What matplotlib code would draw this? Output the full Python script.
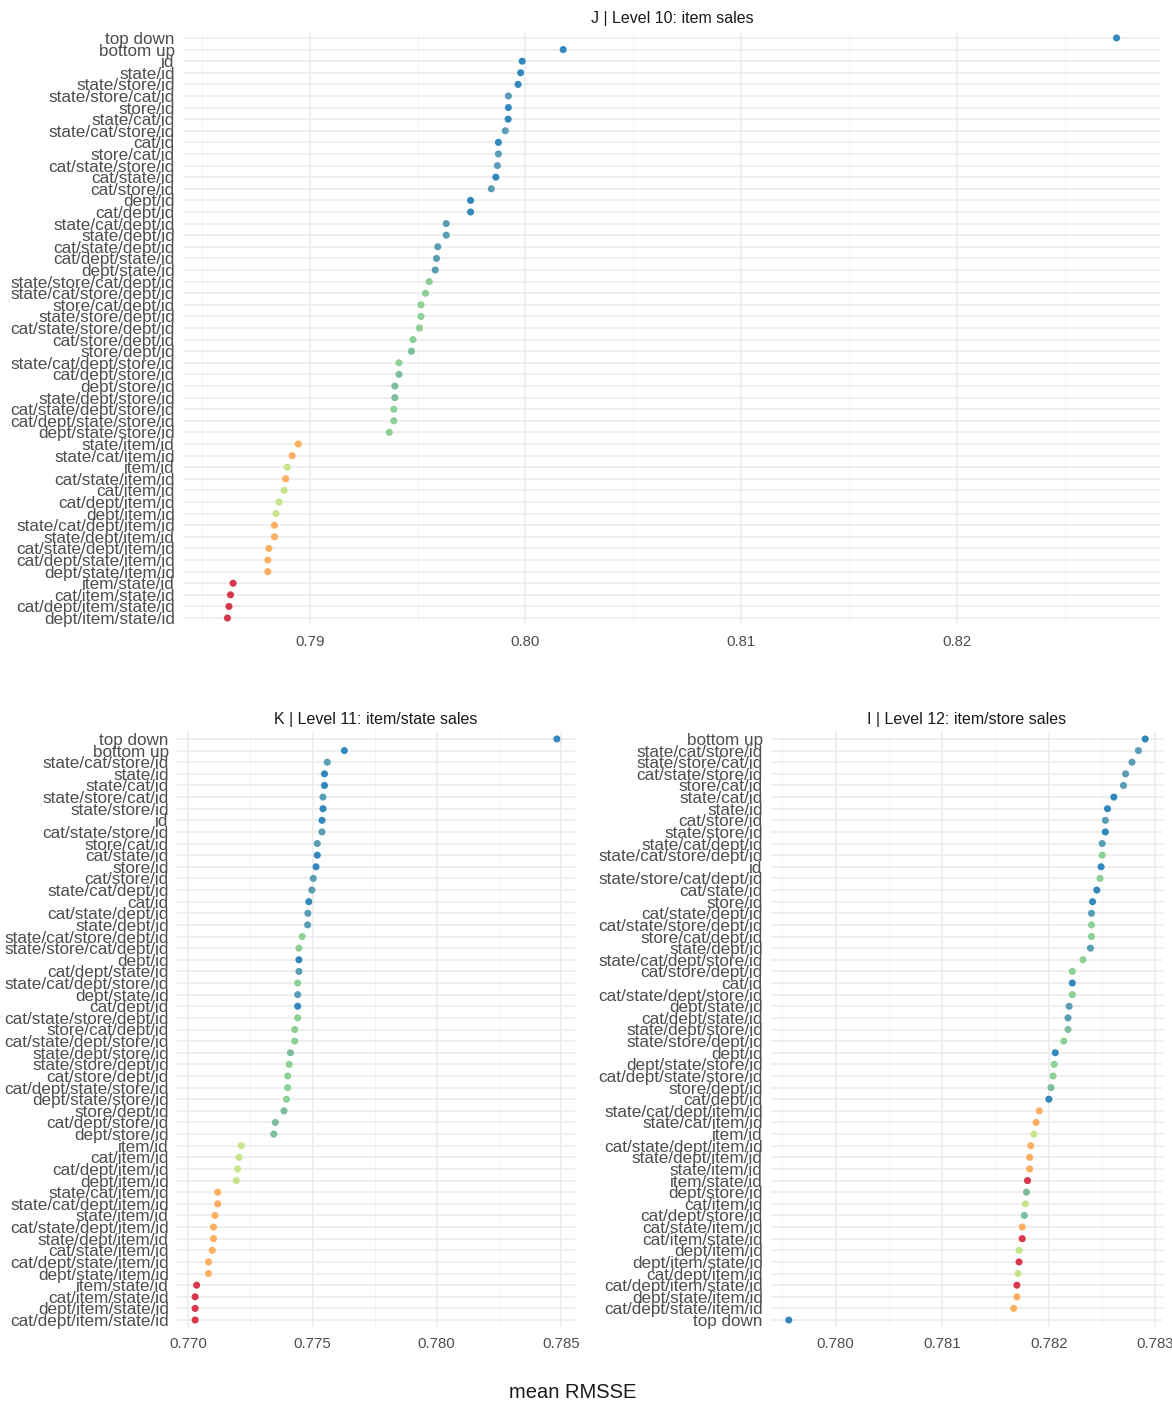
import numpy as np
import matplotlib
matplotlib.use("Agg")
import matplotlib.pyplot as plt
from matplotlib.ticker import MultipleLocator, FormatStrFormatter

plt.rcParams['font.family'] = ['Liberation Sans', 'DejaVu Sans']

# ---------------- data ----------------
labels_l10 = ["top down", "bottom up", "id", "state/id", "state/store/id", "state/store/cat/id", "store/id",
              "state/cat/id", "state/cat/store/id", "cat/id", "store/cat/id", "cat/state/store/id", "cat/state/id",
              "cat/store/id", "dept/id", "cat/dept/id", "state/cat/dept/id", "state/dept/id", "cat/state/dept/id",
              "cat/dept/state/id", "dept/state/id", "state/store/cat/dept/id", "state/cat/store/dept/id",
              "store/cat/dept/id", "state/store/dept/id", "cat/state/store/dept/id", "cat/store/dept/id",
              "store/dept/id", "state/cat/dept/store/id", "cat/dept/store/id", "dept/store/id",
              "state/dept/store/id", "cat/state/dept/store/id", "cat/dept/state/store/id", "dept/state/store/id",
              "state/item/id", "state/cat/item/id", "item/id", "cat/state/item/id", "cat/item/id",
              "cat/dept/item/id", "dept/item/id", "state/cat/dept/item/id", "state/dept/item/id",
              "cat/state/dept/item/id", "cat/dept/state/item/id", "dept/state/item/id", "item/state/id",
              "cat/item/state/id", "cat/dept/item/state/id", "dept/item/state/id"]
values_l10 = [0.8274, 0.80175, 0.79985, 0.79978, 0.79966, 0.79921, 0.79921, 0.7992, 0.79907, 0.79875, 0.79875,
              0.7987, 0.79863, 0.79842, 0.79746, 0.79746, 0.79633, 0.79633, 0.79594, 0.79588, 0.79582, 0.79554,
              0.79537, 0.79516, 0.79516, 0.79509, 0.79479, 0.79472, 0.79414, 0.79414, 0.79395, 0.79395, 0.7939,
              0.7939, 0.79369, 0.78947, 0.78919, 0.78896, 0.78889, 0.78882, 0.78858, 0.78844, 0.78837, 0.78837,
              0.78811, 0.78806, 0.78806, 0.78645, 0.78633, 0.78626, 0.78619]

labels_l11 = ["top down", "bottom up", "state/cat/store/id", "state/id", "state/cat/id", "state/store/cat/id",
              "state/store/id", "id", "cat/state/store/id", "store/cat/id", "cat/state/id", "store/id",
              "cat/store/id", "state/cat/dept/id", "cat/id", "cat/state/dept/id", "state/dept/id",
              "state/cat/store/dept/id", "state/store/cat/dept/id", "dept/id", "cat/dept/state/id",
              "state/cat/dept/store/id", "dept/state/id", "cat/dept/id", "cat/state/store/dept/id",
              "store/cat/dept/id", "cat/state/dept/store/id", "state/dept/store/id", "state/store/dept/id",
              "cat/store/dept/id", "cat/dept/state/store/id", "dept/state/store/id", "store/dept/id",
              "cat/dept/store/id", "dept/store/id", "item/id", "cat/item/id", "cat/dept/item/id", "dept/item/id",
              "state/cat/item/id", "state/cat/dept/item/id", "state/item/id", "cat/state/dept/item/id",
              "state/dept/item/id", "cat/state/item/id", "cat/dept/state/item/id", "dept/state/item/id",
              "item/state/id", "cat/item/state/id", "dept/item/state/id", "cat/dept/item/state/id"]
values_l11 = [0.78484, 0.77628, 0.77559, 0.77548, 0.77548, 0.77542, 0.77542, 0.77538, 0.77538, 0.77519, 0.77519,
              0.77514, 0.77503, 0.77497, 0.77485, 0.77481, 0.7748, 0.77458, 0.77445, 0.77445, 0.77445, 0.7744,
              0.7744, 0.7744, 0.7744, 0.77428, 0.77428, 0.77411, 0.77406, 0.774, 0.774, 0.77395, 0.77385, 0.7735,
              0.77344, 0.77213, 0.77204, 0.77198, 0.77193, 0.77118, 0.77118, 0.77107, 0.77101, 0.77101, 0.77096,
              0.77081, 0.77081, 0.77033, 0.77027, 0.77027, 0.77027]

labels_l12 = ["bottom up", "state/cat/store/id", "state/store/cat/id", "cat/state/store/id", "store/cat/id",
              "state/cat/id", "state/id", "cat/store/id", "state/store/id", "state/cat/dept/id",
              "state/cat/store/dept/id", "id", "state/store/cat/dept/id", "cat/state/id", "store/id",
              "cat/state/dept/id", "cat/state/store/dept/id", "store/cat/dept/id", "state/dept/id",
              "state/cat/dept/store/id", "cat/store/dept/id", "cat/id", "cat/state/dept/store/id", "dept/state/id",
              "cat/dept/state/id", "state/dept/store/id", "state/store/dept/id", "dept/id", "dept/state/store/id",
              "cat/dept/state/store/id", "store/dept/id", "cat/dept/id", "state/cat/dept/item/id",
              "state/cat/item/id", "item/id", "cat/state/dept/item/id", "state/dept/item/id", "state/item/id",
              "item/state/id", "dept/store/id", "cat/item/id", "cat/dept/store/id", "cat/state/item/id",
              "cat/item/state/id", "dept/item/id", "dept/item/state/id", "cat/dept/item/id",
              "cat/dept/item/state/id", "dept/state/item/id", "cat/dept/state/item/id", "top down"]
values_l12 = [0.782904, 0.78284, 0.78278, 0.78272, 0.7827, 0.78261, 0.78255, 0.78253, 0.78253, 0.7825, 0.7825,
              0.78249, 0.78248, 0.78245, 0.78241, 0.7824, 0.7824, 0.7824, 0.78239, 0.78232, 0.78222, 0.78222,
              0.78222, 0.78219, 0.78218, 0.78218, 0.78214, 0.78206, 0.78205, 0.78204, 0.78202, 0.782, 0.78191,
              0.78188, 0.78186, 0.78183, 0.78182, 0.78182, 0.7818, 0.78179, 0.78178, 0.78177, 0.78175, 0.78175,
              0.78172, 0.78172, 0.78171, 0.7817, 0.7817, 0.78167, 0.77956]

# colour group of each method (same in every panel)
group_blue = ["top down", "bottom up", "id", "state/id", "state/store/id", "store/id", "state/cat/id", "cat/id",
              "cat/state/id", "dept/id", "cat/dept/id"]
group_teal = ["state/store/cat/id", "state/cat/store/id", "store/cat/id", "cat/state/store/id", "cat/store/id",
              "state/cat/dept/id", "state/dept/id", "cat/state/dept/id", "cat/dept/state/id", "dept/state/id"]
group_green = ["state/store/cat/dept/id", "state/cat/store/dept/id", "store/cat/dept/id", "cat/state/store/dept/id",
               "cat/store/dept/id", "state/cat/dept/store/id", "cat/state/dept/store/id",
               "cat/dept/state/store/id", "dept/state/store/id", "state/store/dept/id"]
group_seagreen = ["store/dept/id", "dept/store/id", "cat/dept/store/id", "state/dept/store/id"]
group_lime = ["item/id", "cat/item/id", "dept/item/id", "cat/dept/item/id"]
group_orange = ["state/item/id", "state/cat/item/id", "cat/state/item/id", "state/cat/dept/item/id",
                "state/dept/item/id", "cat/state/dept/item/id", "cat/dept/state/item/id", "dept/state/item/id"]
group_red = ["item/state/id", "cat/item/state/id", "cat/dept/item/state/id", "dept/item/state/id"]

colors = {}
for names, c in [(group_blue, "#3288BD"), (group_teal, "#5A9EB6"), (group_green, "#8DD095"),
                 (group_seagreen, "#7CBE9C"), (group_lime, "#C6E58B"), (group_orange, "#FDAE61"),
                 (group_red, "#D7384B")]:
    for n in names:
        colors[n] = c

W, H = 1172, 1408
fig = plt.figure(figsize=(W / 100, H / 100), dpi=100)
fig.patch.set_facecolor("white")


def px_axes(left, top, right, bottom):
    # axes from pixel box
    return fig.add_axes([left / W, 1 - bottom / H, (right - left) / W, (bottom - top) / H])


def dot_panel(ax, labels, values, title, xlim, major, minor, fmt):
    n = len(labels)
    y = np.arange(n)
    ax.scatter(values, y, s=26, c=[colors[l] for l in labels], linewidths=0, zorder=3)
    ax.set_yticks(y)
    ax.set_yticklabels(labels)
    ax.set_ylim(n - 0.4, -0.6)
    ax.set_xlim(*xlim)
    ax.xaxis.set_major_locator(MultipleLocator(major))
    ax.xaxis.set_minor_locator(MultipleLocator(minor))
    ax.xaxis.set_major_formatter(FormatStrFormatter(fmt))
    ax.grid(True, which="major", color="#EBEBEB", linewidth=1.1, zorder=0)
    ax.grid(True, which="minor", axis="x", color="#F2F2F2", linewidth=0.6, zorder=0)
    ax.set_axisbelow(True)
    for s in ax.spines.values():
        s.set_visible(False)
    ax.tick_params(axis="both", which="both", length=0)
    ax.tick_params(axis="y", labelsize=12.3, labelcolor="#4D4D4D", pad=6)
    ax.tick_params(axis="x", labelsize=10.8, labelcolor="#4D4D4D", pad=7)
    ax.set_title(title, fontsize=11.5, color="#1A1A1A", pad=6)


ax_top = px_axes(183, 31, 1161, 625)
dot_panel(ax_top, labels_l10, values_l10, "J | Level 10: item sales",
          (0.78413, 0.82946), 0.01, 0.005, "%.2f")

ax_bl = px_axes(177, 732, 575, 1327)
dot_panel(ax_bl, labels_l11, values_l11, "K | Level 11: item/state sales",
          (0.76954, 0.78557), 0.005, 0.0025, "%.3f")

ax_br = px_axes(771, 732, 1163, 1327)
dot_panel(ax_br, labels_l12, values_l12, "I | Level 12: item/store sales",
          (0.779393, 0.783071), 0.001, 0.0005, "%.3f")

fig.text(573 / W, 1 - 1393 / H, "mean RMSSE", ha="center", va="center", fontsize=14.5, color="#1A1A1A")

fig.savefig("out.png", dpi=100)
